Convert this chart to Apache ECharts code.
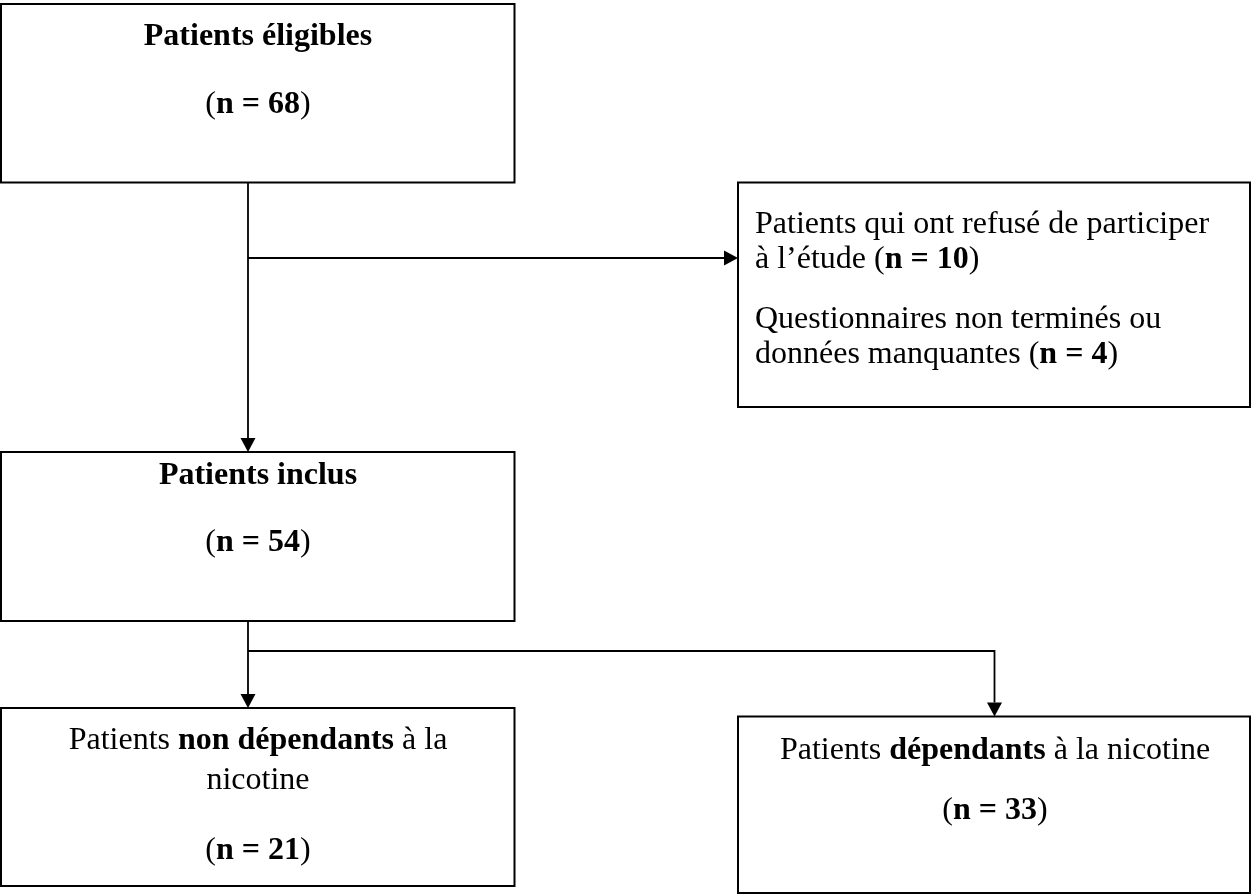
<!DOCTYPE html>
<html>
<head>
<meta charset="utf-8">
<script src="https://cdn.jsdelivr.net/npm/echarts@6/dist/echarts.min.js"></script>
<style>
  html, body { margin: 0; padding: 0; background: #ffffff; }
  #chart { width: 1251px; height: 895px; }
</style>
</head>
<body>
<div id="chart"></div>
<script>
// ---- Data (flow stages and patient counts) ----
const stageNames = [
  'Patients éligibles',
  'Patients qui ont refusé de participer à l’étude',
  'Questionnaires non terminés ou données manquantes',
  'Patients inclus',
  'Patients non dépendants à la nicotine',
  'Patients dépendants à la nicotine'
];
const stageCounts = [68, 10, 4, 54, 21, 33];

// Text lines (rich text) built from the data above
function nTag(v) { return '{r|(}{b|n = ' + v + '}{r|)}'; }
const textLines = [
  '{b|Patients éligibles}',
  nTag(stageCounts[0]),
  '{r|Patients qui ont refusé de participer}',
  '{r|à l’étude (}{b|n = ' + stageCounts[1] + '}{r|)}',
  '{r|Questionnaires non terminés ou}',
  '{r|données manquantes (}{b|n = ' + stageCounts[2] + '}{r|)}',
  '{b|Patients inclus}',
  nTag(stageCounts[3]),
  '{r|Patients }{b|non dépendants}{r| à la}',
  '{r|nicotine}',
  nTag(stageCounts[4]),
  '{r|Patients }{b|dépendants}{r| à la nicotine}',
  nTag(stageCounts[5])
];

// ---- Layout (positions in the diagram's coordinate space) ----
const boxLayout = [
  [1, 4, 514.5, 182.5],
  [738, 182.5, 1250, 407],
  [1, 452, 514.5, 621],
  [1, 708, 514.5, 886],
  [738, 716.5, 1250, 893]
];
const connectorLayout = [
  [[248, 182.5], [248, 452]],
  [[248, 258], [738, 258]],
  [[248, 621], [248, 708]],
  [[248, 651], [994.5, 651], [994.5, 716.5]]
];
const labelLayout = [
  [258, 36.5, 'center'],
  [258, 104.5, 'center'],
  [755, 225, 'left'],
  [755, 260, 'left'],
  [755, 320, 'left'],
  [755, 355, 'left'],
  [258, 475.5, 'center'],
  [258, 542.5, 'center'],
  [258, 740.5, 'center'],
  [258, 780.5, 'center'],
  [258, 850.5, 'center'],
  [995, 750.5, 'center'],
  [995, 810.5, 'center']
];

const FONT = '"Liberation Serif", "Times New Roman", "DejaVu Serif", serif';
const richStyles = {
  r: { fontFamily: FONT, fontSize: 32, fontWeight: 'normal', fill: '#000', lineHeight: 37 },
  b: { fontFamily: FONT, fontSize: 32, fontWeight: 'bold', fill: '#000', lineHeight: 37 }
};

const chart = echarts.init(document.getElementById('chart'), null, { renderer: 'canvas' });

chart.setOption({
  backgroundColor: '#ffffff',
  animation: false,
  grid: { left: 0, right: 0, top: 0, bottom: 0 },
  xAxis: { type: 'value', min: 0, max: 1251, show: false },
  yAxis: { type: 'value', min: 0, max: 895, inverse: true, show: false },
  series: [
    {
      type: 'custom',
      name: 'boxes',
      clip: false,
      silent: true,
      data: boxLayout,
      renderItem: function (params, api) {
        const p0 = api.coord([api.value(0), api.value(1)]);
        const p1 = api.coord([api.value(2), api.value(3)]);
        return {
          type: 'rect',
          shape: { x: p0[0], y: p0[1], width: p1[0] - p0[0], height: p1[1] - p0[1] },
          style: { fill: '#ffffff', stroke: '#000000', lineWidth: 2 }
        };
      }
    },
    {
      type: 'custom',
      name: 'connectors',
      clip: false,
      silent: true,
      data: connectorLayout.map(function (c, i) { return [i]; }),
      renderItem: function (params, api) {
        const pts = connectorLayout[api.value(0)].map(function (p) { return api.coord(p); });
        const a = pts[pts.length - 2], b = pts[pts.length - 1];
        const dx = b[0] - a[0], dy = b[1] - a[1];
        const len = Math.sqrt(dx * dx + dy * dy) || 1;
        const ux = dx / len, uy = dy / len;
        const L = 14, W = 7.5;
        const base = [b[0] - ux * L, b[1] - uy * L];
        const tri = [
          [b[0], b[1]],
          [base[0] - uy * W, base[1] + ux * W],
          [base[0] + uy * W, base[1] - ux * W]
        ];
        const linePts = pts.slice(0, -1).concat([base]);
        return {
          type: 'group',
          children: [
            { type: 'polyline', shape: { points: linePts }, style: { stroke: '#000', lineWidth: 1.8, fill: null } },
            { type: 'polygon', shape: { points: tri }, style: { fill: '#000', stroke: null } }
          ]
        };
      }
    },
    {
      type: 'custom',
      name: 'labels',
      clip: false,
      silent: true,
      data: labelLayout.map(function (l, i) { return [l[0], l[1], i]; }),
      renderItem: function (params, api) {
        const i = api.value(2);
        const p = api.coord([api.value(0), api.value(1)]);
        return {
          type: 'text',
          x: p[0],
          y: p[1],
          style: {
            text: textLines[i],
            rich: richStyles,
            align: labelLayout[i][2],
            verticalAlign: 'middle',
            fontFamily: FONT,
            fontSize: 32,
            fill: '#000'
          }
        };
      }
    }
  ]
});
</script>
</body>
</html>
